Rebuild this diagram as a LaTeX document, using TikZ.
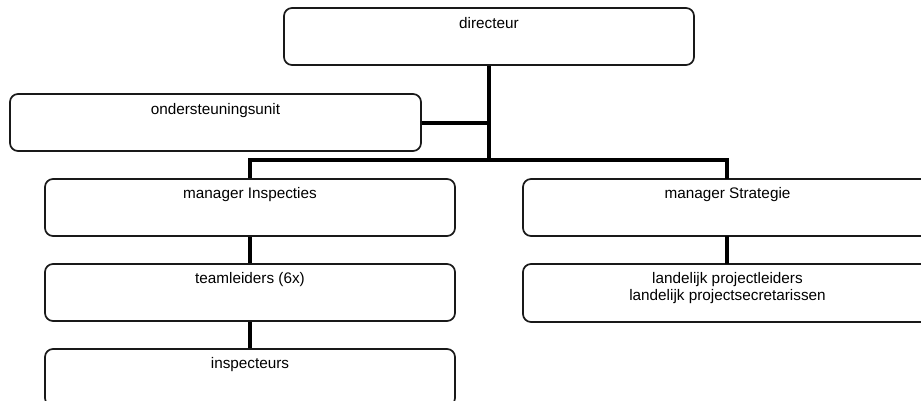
\documentclass[tikz,border=0pt]{standalone}
\usepackage{fontspec}
\setmainfont{Liberation Sans}
\begin{document}
\begin{tikzpicture}[x=1pt,y=-1pt,
  box/.style={draw=black!90, line width=1.7pt, rounded corners=8pt, inner sep=0pt},
  txt/.style={anchor=base, inner sep=0pt, align=center, font=\fontsize{15.3}{17}\selectfont},
  conn/.style={line width=4pt, black}]
\useasboundingbox (0,0) rectangle (921,401);
\clip (0,0) rectangle (921,401);
% boxes
\node[box, minimum width=410pt, minimum height=57pt] (dir) at (489,36.5) {};
\node[box, minimum width=411pt, minimum height=57pt] (ond) at (215.5,122.5) {};
\node[box, minimum width=410pt, minimum height=57pt] (mi) at (250,207.5) {};
\node[box, minimum width=410pt, minimum height=57pt] (tl) at (250,292.5) {};
\node[box, minimum width=410pt, minimum height=57pt] (ins) at (250,377.5) {};
\node[box, minimum width=412pt, minimum height=57pt] (ms) at (729,207.5) {};
\node[box, minimum width=412pt, minimum height=58pt] (lp) at (729,293) {};
% texts
\node[txt] at ([yshift=-21pt]dir.north) {directeur};
\node[txt] at ([yshift=-21pt]ond.north) {ondersteuningsunit};
\node[txt] at ([yshift=-20pt]mi.north) {manager Inspecties};
\node[txt] at ([yshift=-20pt]tl.north) {teamleiders (6x)};
\node[txt] at ([yshift=-20pt]ins.north) {inspecteurs};
\node[txt] at ([xshift=-1.5pt,yshift=-20pt]ms.north) {manager Strategie};
\node[txt, anchor=north] at ([xshift=-1.5pt,yshift=-9pt]lp.north) {landelijk projectleiders\\landelijk projectsecretarissen};
% connectors
\coordinate (bus) at (489,160);
\coordinate (junc) at (489,122.7);
\draw[conn] (dir.south) -- (bus);
\draw[conn] (ond.east |- junc) -- (junc);
\draw[conn] (mi.north) -- (250,160) -- (727,160) -- (727,179);
\draw[conn] (tl.north) -- (mi.south);
\draw[conn] (ins.north) -- (tl.south);
\draw[conn] (727,236) -- (727,264);
\end{tikzpicture}
\end{document}
